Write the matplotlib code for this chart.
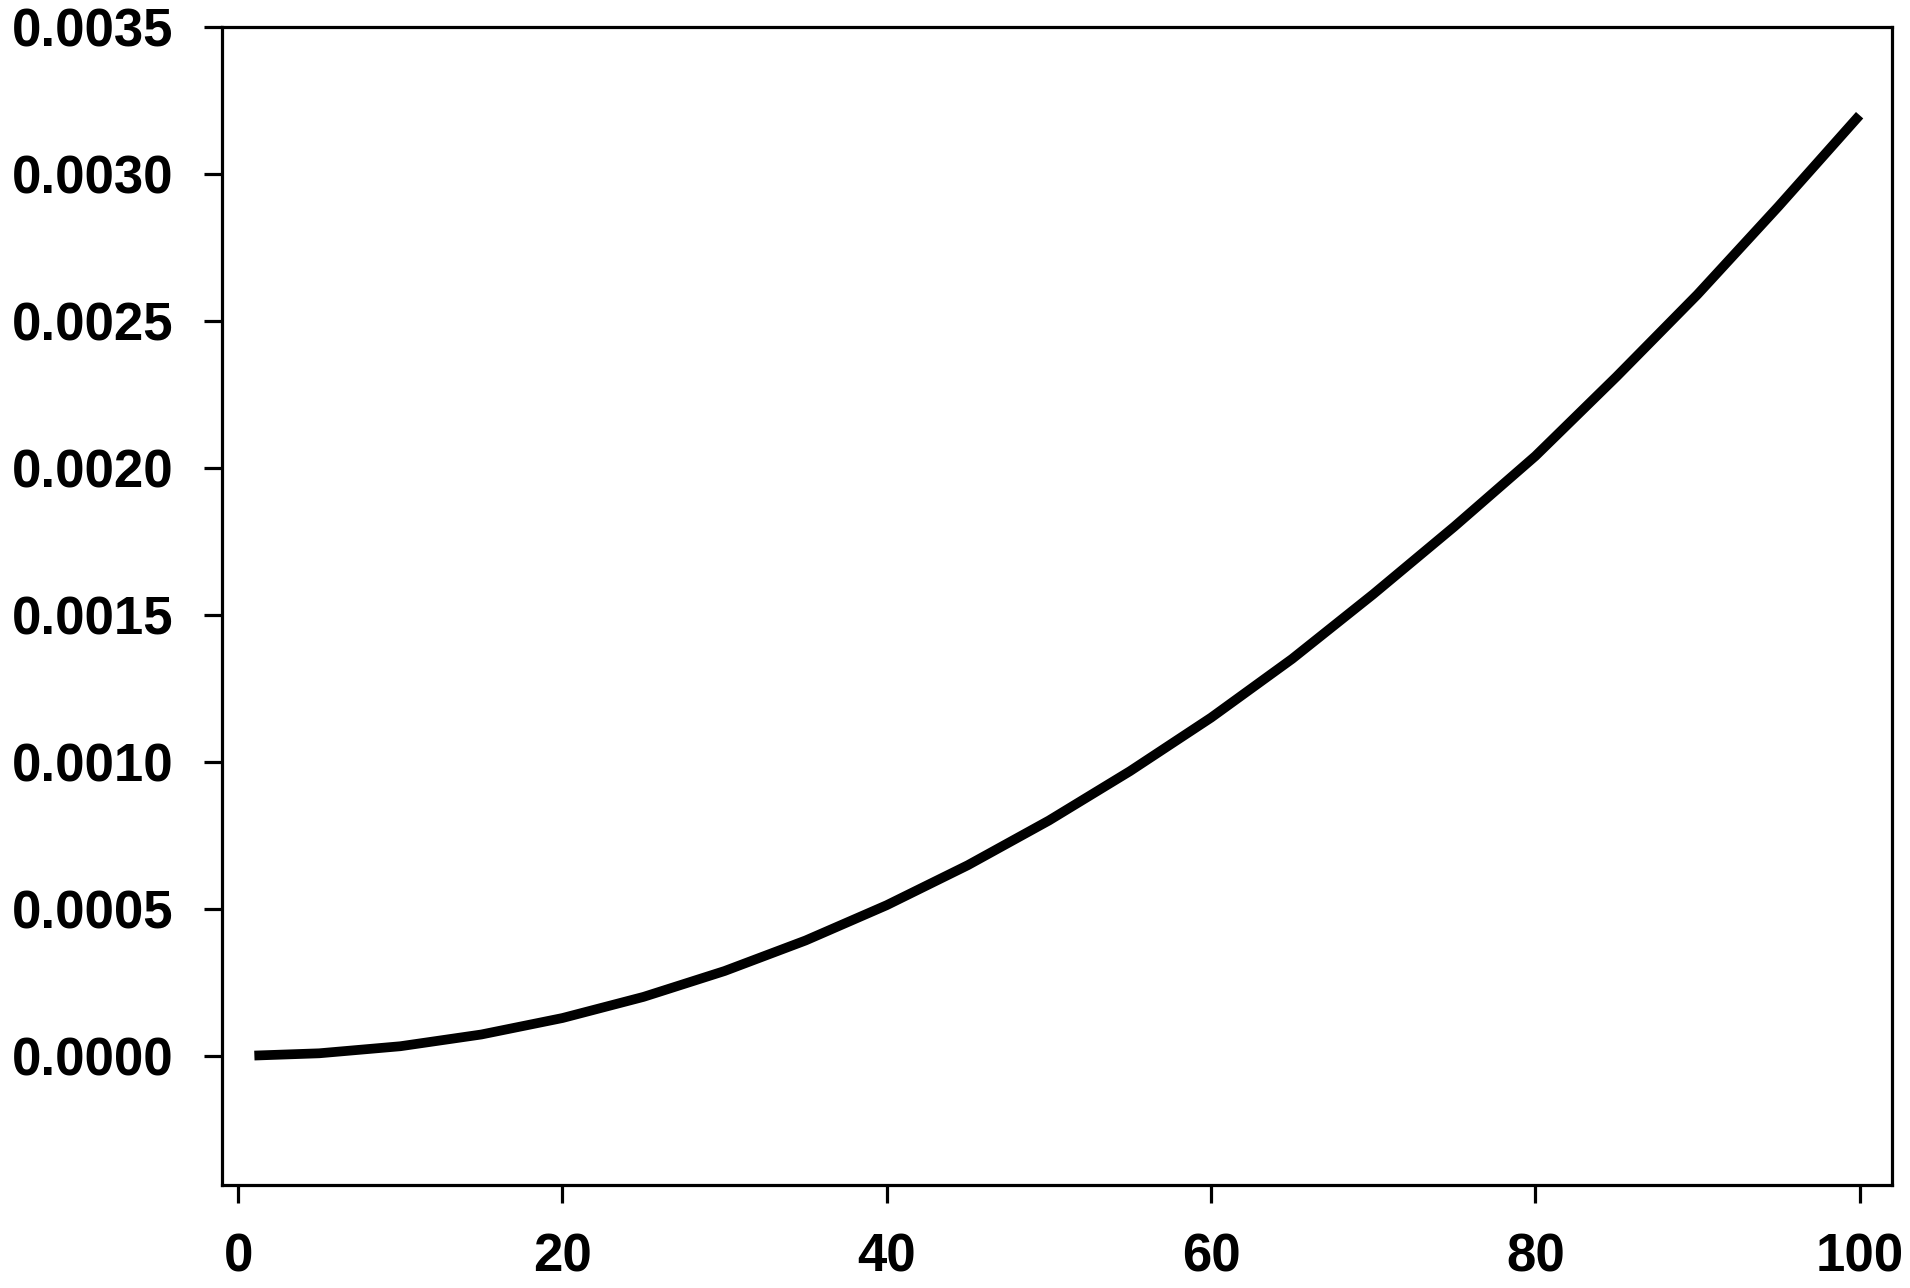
import matplotlib.pyplot as plt
from matplotlib.ticker import FormatStrFormatter

# values
x_vals = [1, 5, 10, 15, 20, 25, 30, 35, 40, 45, 50,
          55, 60, 65, 70, 75, 80, 85, 90, 95, 100]
y_vals = [0.0000003, 0.000008, 0.000032, 0.000072, 0.000128, 0.0002,
          0.000288, 0.000392, 0.000512, 0.000648, 0.0008, 0.000968,
          0.00115, 0.00135, 0.00157, 0.0018, 0.00204, 0.00231,
          0.00259, 0.00289, 0.0032]
x_ticks = [0, 20, 40, 60, 80, 100]
y_ticks = [0.0, 0.0005, 0.001, 0.0015, 0.002, 0.0025, 0.003, 0.0035]

plt.rcParams['font.family'] = ['Liberation Sans', 'DejaVu Sans']

fig = plt.figure(figsize=(19.10, 12.88), dpi=100)
ax = fig.add_axes([0.1162, 0.080, 0.8744, 0.899])
ax.plot(x_vals, y_vals, color='black', linewidth=7, solid_capstyle='butt',
        solid_joinstyle='round')

ax.set_xlim(-1, 102)
ax.set_ylim(-0.00044, 0.0035)
ax.set_xticks(x_ticks)
ax.set_yticks(y_ticks)
ax.yaxis.set_major_formatter(FormatStrFormatter('%.4f'))

for s in ax.spines.values():
    s.set_linewidth(2.3)
ax.tick_params(axis='both', direction='out', length=13, width=2.3,
               labelsize=38)
ax.tick_params(axis='y', pad=22)
ax.tick_params(axis='x', pad=21)
for lbl in ax.get_xticklabels() + ax.get_yticklabels():
    lbl.set_fontweight('bold')

plt.savefig('out.png', dpi=100)
